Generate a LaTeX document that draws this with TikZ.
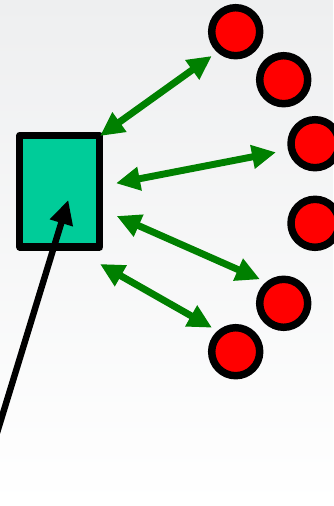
\documentclass[tikz,border=0pt]{standalone}
\usetikzlibrary{arrows.meta}
\definecolor{boxfill}{RGB}{0,204,153}
\definecolor{ballred}{RGB}{255,0,0}
\definecolor{arrgreen}{RGB}{0,128,0}
\definecolor{bgtop}{RGB}{238,239,240}
\begin{document}
\begin{tikzpicture}[x=0.75pt,y=-0.75pt,
  ball/.style={circle,draw=black,fill=ballred,line width=5.6pt,minimum size=36pt,inner sep=0pt},
  boxnode/.style={rectangle,draw=black,fill=boxfill,line width=5.4pt,minimum width=60pt,minimum height=83.6pt,inner sep=0pt,line join=round},
  link/.style={draw=arrgreen,line width=5.2pt,{Triangle[length=18pt,width=17pt]}-{Triangle[length=18pt,width=17pt]}},
  push/.style={draw=black,line width=4.8pt,-{Triangle[length=18pt,width=17pt]}}]
\useasboundingbox (0,0) rectangle (333,506);
\shade[top color=bgtop,bottom color=white] (0,0) rectangle (333,506);
\node[boxnode] (box) at (59.8,191.2) {};
\node[ball] (c1) at (235.7,31.7) {};
\node[ball] (c2) at (283.7,79.7) {};
\node[ball] (c3) at (315,143.7) {};
\node[ball] (c4) at (315,223.3) {};
\node[ball] (c5) at (283.7,303.3) {};
\node[ball] (c6) at (235.7,351.7) {};
\coordinate (a1s) at (100,136);
\coordinate (a1e) at (211.7,56);
\coordinate (a2s) at (116,183.3);
\coordinate (a2e) at (276,152.3);
\coordinate (a3s) at (116.7,216);
\coordinate (a3e) at (260,279.3);
\coordinate (a4s) at (100,264);
\coordinate (a4e) at (212,327.7);
\coordinate (src) at (-5.2,440);
\coordinate (dst) at (68.3,200);
\draw[link] (a1s) -- (a1e);
\draw[link] (a2s) -- (a2e);
\draw[link] (a3s) -- (a3e);
\draw[link] (a4s) -- (a4e);
\draw[push] (src) -- (dst);
\end{tikzpicture}
\end{document}
